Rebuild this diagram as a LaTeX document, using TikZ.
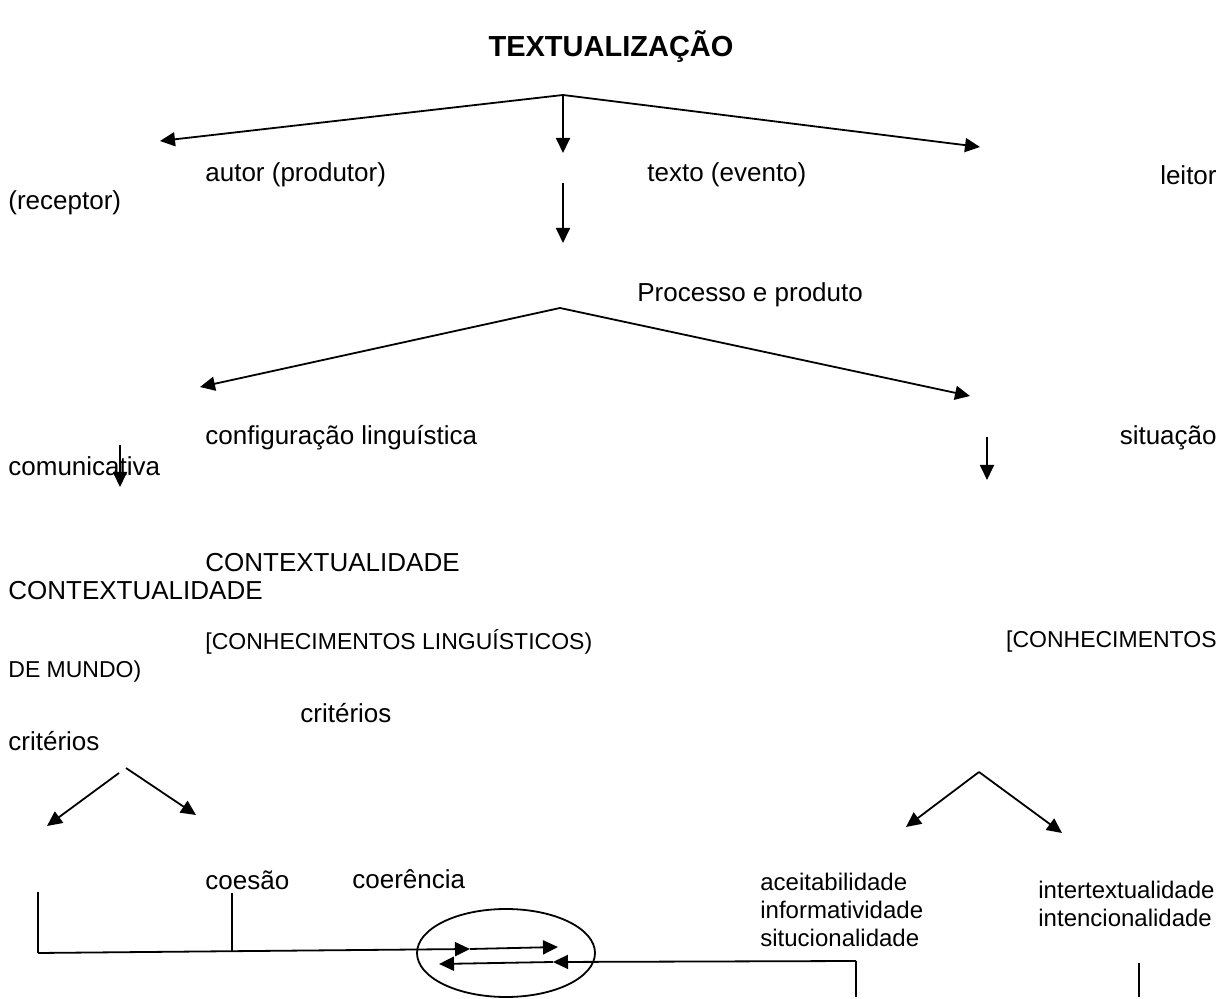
\documentclass[tikz,border=0pt]{standalone}
\usepackage{fontspec}
\setmainfont{Liberation Sans}
\usetikzlibrary{arrows.meta}
\tikzset{> = {Triangle[length=7.5pt,width=7pt]}, ln/.style={line width=0.9pt},
  txt/.style={anchor=west,inner sep=0pt,font=\fontsize{13}{15}\selectfont},
  txtr/.style={txt,anchor=east},
  sml/.style={anchor=west,inner sep=0pt,font=\fontsize{11.5}{13}\selectfont},
  lst/.style={anchor=west,inner sep=0pt,align=left,font=\fontsize{12}{14}\selectfont}}

\begin{document}
\begin{tikzpicture}[x=0.5pt,y=-0.5pt]
		\useasboundingbox (0,0) rectangle (1222,999);
		\node[font=\bfseries\fontsize{14.5}{17}\selectfont] (titulo) at (611,47) {TEXTUALIZAÇÃO};
		% autor / texto / leitor
		\coordinate (j1) at (563,95);
		\coordinate (pAutor) at (160,141);
		\coordinate (pTexto) at (563,153);
		\coordinate (pLeitor) at (980,147);
		\draw[ln,->] (j1)--(pAutor);
		\draw[ln,->] (j1)--(pTexto);
		\draw[ln,->] (j1)--(pLeitor);
		\node[txt] (autor) at (205,175) {autor (produtor)};
		\node[txt] (texto) at (647,175) {texto (evento)};
		\node[txtr] (leitor) at (1217,175) {leitor};
		\node[txt] (receptor) at (8,203) {(receptor)};
		\coordinate (d1) at (563,183);
		\coordinate (d2) at (563,243);
		\draw[ln,->] (d1)--(d2);
		\node[txt] (processo) at (637,295) {Processo e produto};
		% configuracao / situacao
		\coordinate (j2) at (560,308);
		\coordinate (pConf) at (200,387);
		\coordinate (pSit) at (970,396);
		\draw[ln,->] (j2)--(pConf);
		\draw[ln,->] (j2)--(pSit);
		\node[txt] (config) at (205,438) {configuração linguística};
		\node[txtr] (situacao) at (1217,438) {situação};
		\node[txt] (comunic) at (8,466) {comunicativa};
		\coordinate (e1) at (120,445);
		\coordinate (e2) at (120,487);
		\coordinate (f1) at (987,437);
		\coordinate (f2) at (987,480);
		\draw[ln,->] (e1)--(e2);
		\draw[ln,->] (f1)--(f2);
		\node[txt] (ctx1) at (205,563) {CONTEXTUALIDADE};
		\node[txt] (ctx2) at (8,591) {CONTEXTUALIDADE};
		\node[sml] (conhL) at (205,642) {[CONHECIMENTOS LINGUÍSTICOS)};
		\node[sml,anchor=east] (conhM) at (1217,642) {[CONHECIMENTOS};
		\node[sml] (mundo) at (8,672) {DE MUNDO)};
		\node[txt] (crit1) at (300,713) {critérios};
		\node[txt] (crit2) at (8,741) {critérios};
		% criterios
		\coordinate (ka) at (119,773);
		\coordinate (kb) at (126,768);
		\coordinate (kL) at (47,826);
		\coordinate (kR) at (196,815);
		\draw[ln,->] (ka)--(kL);
		\draw[ln,->] (kb)--(kR);
		\coordinate (m) at (979,772);
		\coordinate (mL) at (906,827);
		\coordinate (mR) at (1062,833);
		\draw[ln,->] (m)--(mL);
		\draw[ln,->] (m)--(mR);
		\node[txt] (coesao) at (205,880) {coesão};
		\node[txt] (coerencia) at (352,879) {coerência};
		\node[lst] (aceit) at (760,910) {aceitabilidade\\informatividade\\situcionalidade};
		\node[lst] (intert) at (1038,904) {intertextualidade\\intencionalidade};
		% ligacoes de baixo
		\coordinate (v1) at (38,892);
		\coordinate (v2) at (38,953);
		\coordinate (t1) at (232,893);
		\coordinate (t2) at (232,952);
		\coordinate (h1) at (470,949);
		\coordinate (h2) at (558,947);
		\coordinate (r1) at (856,961);
		\coordinate (r2) at (856,997);
		\coordinate (h3) at (553,962);
		\coordinate (h4) at (439,964);
		\coordinate (s1) at (1139,963);
		\coordinate (s2) at (1139,997);
		\draw[ln] (v1)--(v2);
		\draw[ln] (t1)--(t2);
		\draw[ln,->] (v2)--(h1);
		\draw[ln,->] (h1)--(h2);
		\draw[ln,->] (r1)--(h3);
		\draw[ln,->] (h3)--(h4);
		\draw[ln] (r1)--(r2);
		\draw[ln] (s1)--(s2);
		\coordinate (oval) at (506,953);
		\draw[ln] (oval) ellipse [x radius=44.5pt, y radius=22pt];
\end{tikzpicture}
\end{document}
